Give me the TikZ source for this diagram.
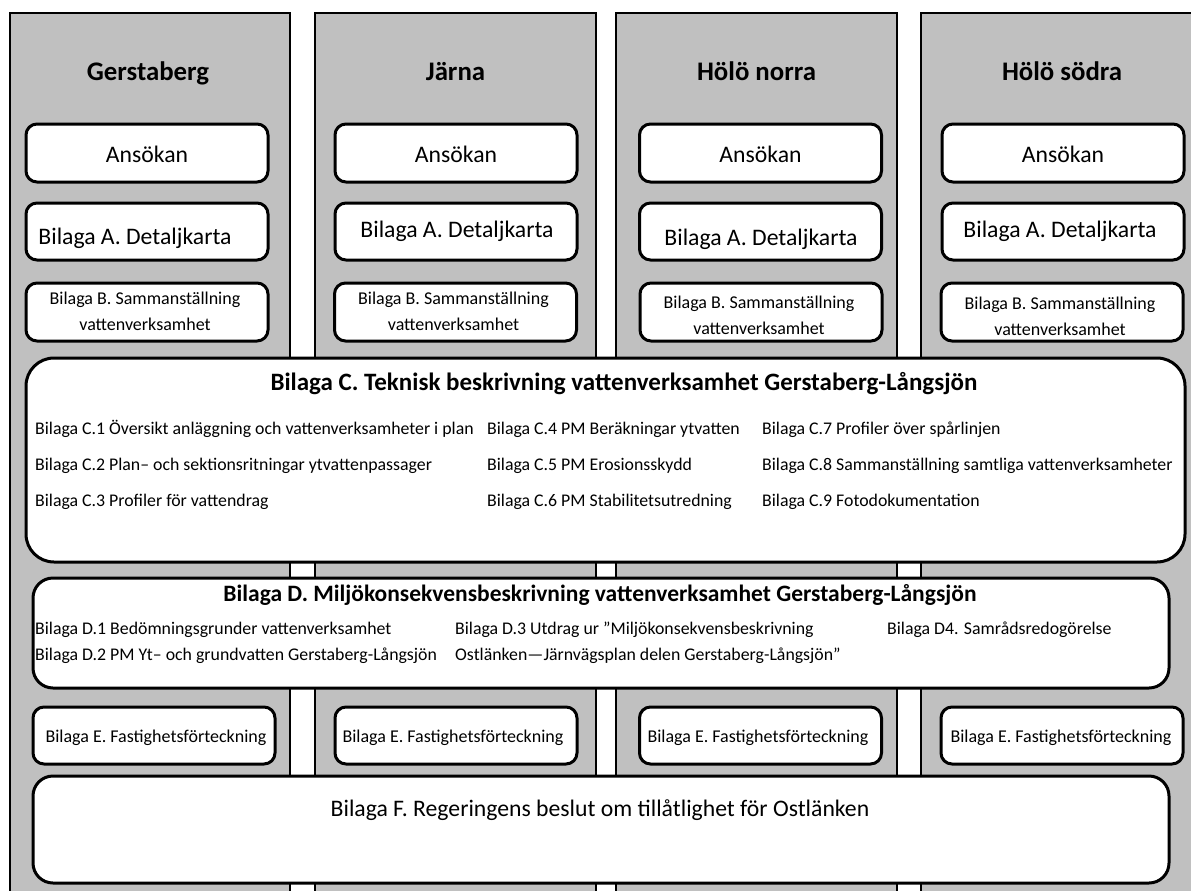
\documentclass[tikz,border=0pt]{standalone}
\usepackage{fontspec}
\setmainfont{Carlito}
\definecolor{colgray}{RGB}{192,192,192}
\begin{document}
\begin{tikzpicture}[x=1pt,y=-1pt,
  colbox/.style={draw=black,line width=2pt,fill=colgray},
  box/.style={draw=black,line width=3pt,fill=white,rounded corners=11pt,inner sep=0pt},
  txt/.style={inner sep=0pt,text height=5pt,text depth=5pt},
  ttl/.style={txt,yshift=-8.5pt,font=\fontsize{26.8}{30}\selectfont\bfseries},
  big/.style={txt,yshift=-8.3pt,font=\fontsize{23.7}{27}\selectfont},
  bsm/.style={inner sep=0pt,align=center,font=\fontsize{18}{26}\selectfont},
  hdrc/.style={txt,yshift=-8.6pt,font=\fontsize{25}{29}\selectfont\bfseries},
  hdrd/.style={txt,yshift=-8.2pt,font=\fontsize{23.5}{27}\selectfont\bfseries},
  itm/.style={txt,yshift=-6.3pt,anchor=west,font=\fontsize{17.8}{21}\selectfont},
  etx/.style={txt,yshift=-6.3pt,font=\fontsize{18}{22}\selectfont}]
\useasboundingbox (0,0) rectangle (1191,891);
\fill[white] (0,0) rectangle (1191,891);
\clip (0,0) rectangle (1191,891);
% columns
\draw[colbox] (10,13) rectangle (290,910);
\draw[colbox] (315,13) rectangle (596,910);
\draw[colbox] (616,13) rectangle (897,910);
\draw[colbox] (921,13) rectangle (1202,910);
% titles
\node[ttl] (t1) at (148,72) {Gerstaberg};
\node[ttl] (t2) at (455.5,72) {Järna};
\node[ttl] (t3) at (756.5,72) {Hölö norra};
\node[ttl] (t4) at (1062,72) {Hölö södra};
% Ansökan
\foreach \i/\cx in {1/147,2/456,3/760.5,4/1063}{
  \node[box,minimum width=242,minimum height=58] (ans\i) at (\cx,153) {};
  \node[big] (anst\i) at (\cx,154) {Ansökan};
}
% Bilaga A
\foreach \i/\cx/\tx/\ty in {1/147/135/236,2/456/457/229,3/760.5/761/237,4/1063/1060/229}{
  \node[box,minimum width=242,minimum height=57] (ba\i) at (\cx,231.5) {};
  \node[big] (bat\i) at (\tx,\ty) {Bilaga A. Detaljkarta};
}
% Bilaga B
\foreach \i/\cx/\ty in {1/147/311,2/455.5/311,3/761/315,4/1062/316}{
  \node[box,minimum width=242,minimum height=58] (bb\i) at (\cx,312) {};
  \node[bsm] (bbt\i) at (\cx-2,\ty) {Bilaga B. Sammanställning\\vattenverksamhet};
}
% Bilaga C
\node[box,rounded corners=28pt,minimum width=1159,minimum height=204] (bc) at (605.5,460) {};
\node[hdrc] (bch) at (624,382) {Bilaga C. Teknisk beskrivning vattenverksamhet Gerstaberg-Långsjön};
\node[itm] (c1) at (35,428) {Bilaga C.1 Översikt anläggning och vattenverksamheter i plan};
\node[itm] (c2) at (35,464) {Bilaga C.2 Plan– och sektionsritningar ytvattenpassager};
\node[itm] (c3) at (35,500) {Bilaga C.3 Profiler för vattendrag};
\node[itm] (c4) at (487,428) {Bilaga C.4 PM Beräkningar ytvatten};
\node[itm] (c5) at (487,464) {Bilaga C.5 PM Erosionsskydd};
\node[itm] (c6) at (487,500) {Bilaga C.6 PM Stabilitetsutredning};
\node[itm] (c7) at (762,428) {Bilaga C.7 Profiler över spårlinjen};
\node[itm] (c8) at (762,464) {Bilaga C.8 Sammanställning samtliga vattenverksamheter};
\node[itm] (c9) at (762,500) {Bilaga C.9 Fotodokumentation};
% Bilaga D
\node[box,rounded corners=20pt,minimum width=1136,minimum height=110] (bd) at (601,633) {};
\node[hdrd] (bdh) at (600,593) {Bilaga D. Miljökonsekvensbeskrivning vattenverksamhet Gerstaberg-Långsjön};
\node[itm] (d1) at (35,628) {Bilaga D.1 Bedömningsgrunder vattenverksamhet};
\node[itm] (d2) at (35,654) {Bilaga D.2 PM Yt– och grundvatten Gerstaberg-Långsjön};
\node[itm] (d3) at (455,628) {Bilaga D.3 Utdrag ur ”Miljökonsekvensbeskrivning};
\node[itm] (d3b) at (455,654) {Ostlänken—Järnvägsplan delen Gerstaberg-Långsjön”};
\node[itm] (d4) at (887,628) {Bilaga D4. Samrådsredogörelse};
% Bilaga E
\foreach \i/\cx/\tx in {1/154/156,2/456/453,3/760.5/758,4/1062/1061}{
  \node[box,minimum width=242,minimum height=57] (be\i) at (\cx,735.5) {};
  \node[etx] (bet\i) at (\tx,736) {Bilaga E. Fastighetsförteckning};
}
% Bilaga F
\node[box,rounded corners=20pt,minimum width=1136,minimum height=107] (bf) at (601,829.5) {};
\node[big] (bft) at (600,808) {Bilaga F. Regeringens beslut om tillåtlighet för Ostlänken};
\end{tikzpicture}
\end{document}
